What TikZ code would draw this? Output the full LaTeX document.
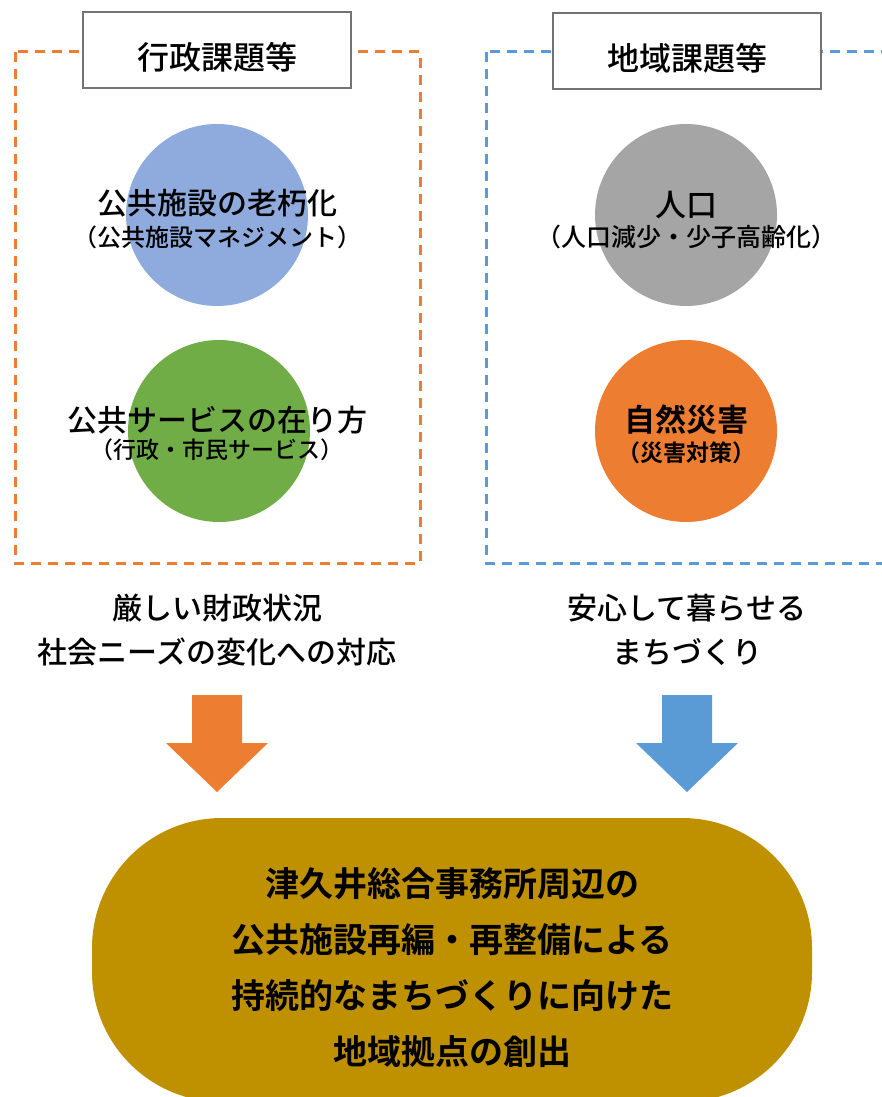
\documentclass[tikz,border=0pt]{standalone}
\usepackage{fontspec}
\setmainfont{Noto Sans CJK JP Medium}[BoldFont={Noto Sans CJK JP Bold}]
\definecolor{gyosei}{HTML}{ED7D31}
\definecolor{chiiki}{HTML}{5B9BD5}
\definecolor{roukablue}{HTML}{8FAADC}
\definecolor{servgreen}{HTML}{70AD47}
\definecolor{jinkogray}{HTML}{A5A5A5}
\definecolor{goldgoal}{HTML}{BF9000}
\newcommand{\fs}[1]{\fontsize{#1}{#1}\selectfont}

\begin{document}
\begin{tikzpicture}[x=1pt,y=-1pt,
    frame/.style={line width=3pt,dash pattern=on 10pt off 7pt},
    title/.style={draw=black!55,line width=1.5pt,fill=white,
      minimum width=268pt,minimum height=76pt,font=\fs{32},
      text height=44pt,text depth=4pt},
    disc/.style={circle,minimum size=182pt,inner sep=0pt},
    big/.style={font=\fs{30}},
    small/.style={font=\fs{24}},
    goal/.style={fill=goldgoal,rounded corners=130pt,
      minimum width=720pt,minimum height=284pt}]
   \clip (0,0) rectangle (882,1097);
   \fill[white] (0,0) rectangle (882,1097);
   % dashed frames
   \draw[frame,gyosei] (15,52) rectangle (420,563);
   \draw[frame,chiiki] (486,52) rectangle (900,563);
   \node[title] (gyoseikadai) at (217,50) {行政課題等};
   \node[title] (chiikikadai) at (687,51) {地域課題等};
   % circles
   \node[disc,fill=roukablue] (rouka) at (217,215) {};
   \node[disc,fill=servgreen] (service) at (219,431) {};
   \node[disc,fill=jinkogray] (jinko) at (686,215) {};
   \node[disc,fill=gyosei] (saigai) at (686,431) {};
   \node[big] (roukatxt) at (217,203) {公共施設の老朽化};
   \node[small] (roukasub) at (217,237) {（公共施設マネジメント）};
   \node[big] (servicetxt) at (217,420) {公共サービスの在り方};
   \node[small,font=\fs{23}] (servicesub) at (217,450) {（行政・市民サービス）};
   \node[big,font=\fs{31}] (jinkotxt) at (686,205) {人口};
   \node[small,font=\fs{25}] (jinkosub) at (686,237) {（人口減少・少子高齢化）};
   \node[big,font=\fs{31}\bfseries] (saigaitxt) at (686,420) {自然災害};
   \node[small,font=\fs{23}\bfseries] (saigaisub) at (686,453) {（災害対策）};
   % needs
   \node[big] (zaisei) at (217,608) {厳しい財政状況};
   \node[big] (needs) at (217,652) {社会ニーズの変化への対応};
   \node[big] (anshin) at (687,608) {安心して暮らせる};
   \node[big] (machi) at (687,652) {まちづくり};
   % block arrows
   \fill[gyosei] (192,695) -- (242,695) -- (242,743) -- (268,743)
     -- (217,792) -- (166,743) -- (192,743) -- cycle;
   \fill[chiiki] (662,695) -- (712,695) -- (712,743) -- (738,743)
     -- (687,792) -- (636,743) -- (662,743) -- cycle;
   % goal
   \node[goal] (kyoten) at (452,960) {};
   \node[align=center,font=\fontsize{34}{56}\selectfont\bfseries] (kyotentxt) at (452,968)
     {津久井総合事務所周辺の\\公共施設再編・再整備による\\持続的なまちづくりに向けた\\地域拠点の創出};
\end{tikzpicture}
\end{document}
